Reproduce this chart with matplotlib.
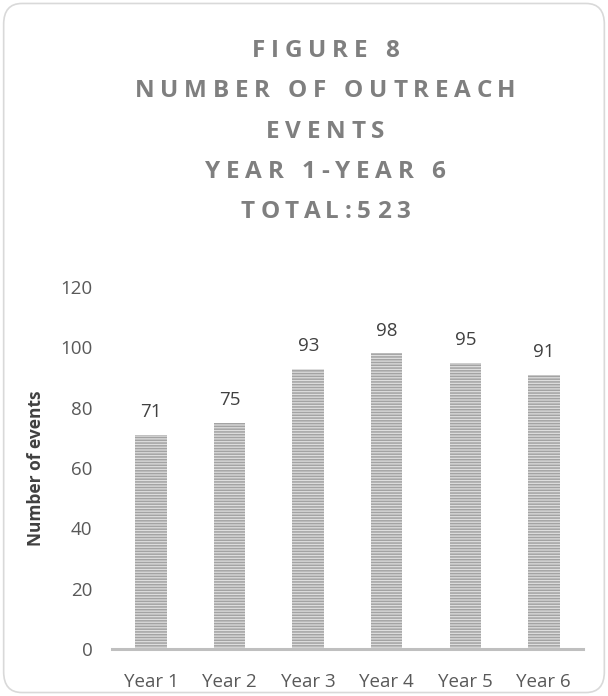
import matplotlib.pyplot as plt
from matplotlib.patches import FancyBboxPatch
from matplotlib.font_manager import FontProperties

years = ["Year 1", "Year 2", "Year 3", "Year 4", "Year 5", "Year 6"]
events = [71, 75, 93, 98, 95, 91]
title_lines = ["FIGURE 8", "NUMBER OF OUTREACH", "EVENTS", "YEAR 1-YEAR 6", "TOTAL:523"]
y_ticks = [0, 20, 40, 60, 80, 100, 120]

plt.rcParams['font.family'] = ['Open Sans', 'DejaVu Sans']
plt.rcParams['hatch.linewidth'] = 1.1

fig = plt.figure(figsize=(6.08, 6.96), dpi=100)

# rounded frame round the whole chart
frame = FancyBboxPatch((0.006, 0.005), 0.988, 0.99, boxstyle="round,pad=0,rounding_size=0.03",
                       transform=fig.transFigure, facecolor='white', edgecolor='#d9d9d9',
                       linewidth=1.2, zorder=-5)
fig.patches.append(frame)

ax = fig.add_axes([0.184, 0.0675, 0.775, 0.52])
ax.set_zorder(2)
ax.set_facecolor('none')

bars = ax.bar(years, events, width=0.4, color='#dedede', edgecolor='#a3a3a3',
              hatch='-' * 6, linewidth=0)
for b, v in zip(bars, events):
    ax.text(b.get_x() + b.get_width() / 2, v + 4.5, str(v), ha='center', va='bottom',
            fontsize=13.5, color='#404040')

ax.set_ylim(0, 120)
ax.set_yticks(y_ticks)
ax.set_xlim(-0.5, 5.5)
ax.tick_params(length=0, labelsize=13.5, labelcolor='#595959')
ax.tick_params(axis='x', pad=17)
ax.tick_params(axis='y', pad=14)
for s in ['top', 'right', 'left']:
    ax.spines[s].set_visible(False)
ax.spines['bottom'].set_color('#bfbfbf')
ax.spines['bottom'].set_linewidth(2.2)

ax.set_ylabel("Number of events", fontsize=12.5, fontweight='bold', color='#404040', labelpad=11)

# title block: letters drawn with extra tracking, like the original
renderer = fig.canvas.get_renderer()
prop = FontProperties(family=['Open Sans', 'DejaVu Sans'], weight='bold', size=17.5)
track = 5.8  # px added after each letter


def text_w(s):
    w, _, _ = renderer.get_text_width_height_descent(s + '|', prop, ismath=False)
    w0, _, _ = renderer.get_text_width_height_descent('|', prop, ismath=False)
    return w - w0


cx = 0.535 * 608
y0 = 1 - 51 / 696
for i, line in enumerate(title_lines):
    total = text_w(line) + track * (len(line) - 1)
    left = cx - total / 2
    for j, ch in enumerate(line):
        if ch == ' ':
            continue
        x = left + text_w(line[:j]) + track * j
        fig.text(x / 608, y0 - i * 40.3 / 696, ch, ha='left', va='center',
                 fontproperties=prop, color='#7f7f7f')

fig.savefig("out.png", dpi=100)
